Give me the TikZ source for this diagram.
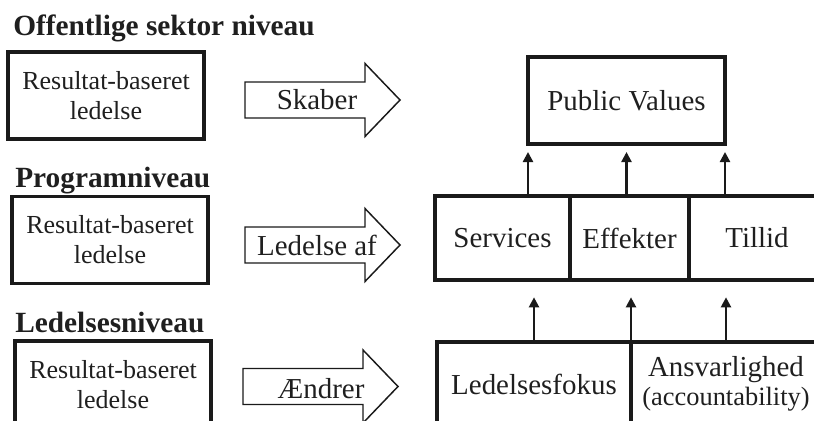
\documentclass[tikz,border=0pt]{standalone}
\usepackage{fontspec}
\setmainfont{Liberation Serif}
\usepackage{tikz}
\usetikzlibrary{calc}
\usetikzlibrary{arrows.meta}
\definecolor{ink}{HTML}{1A1A1A}
\definecolor{txt}{HTML}{1F1F1F}
\newcommand{\bigarrow}[2]{ \draw[ink, line width=1.1pt, fill=white, line join=miter] (#1 , #2 - 18) -- (#1 + 120 , #2 - 18) -- (#1 + 120 , #2 - 36.5) -- (#1 + 155 , #2) -- (#1 + 120 , #2 + 36.5) -- (#1 + 120 , #2 + 18) -- (#1 , #2 + 18) -- cycle;}
\tikzset{
  level/.style={anchor=base west, inner sep=0pt, text=txt, font=\fontsize{22}{26}\selectfont\bfseries},
  lbox/.style={draw=ink, line width=2.6pt, outer sep=0pt, inner sep=0pt, align=center, text=txt,
    minimum width=147pt, minimum height=65pt, font=\fontsize{19.5}{22.5}\selectfont},
  cell/.style={draw=ink, line width=2.5pt, outer sep=0pt, inner sep=0pt, align=center, text=txt,
    minimum height=63pt, font=\fontsize{21.7}{26}\selectfont},
  verb/.style={inner sep=0pt, text=txt, font=\fontsize{21.7}{26}\selectfont},
  conn/.style={ink, line width=1.7pt, -{Triangle[length=7.5pt, width=7.5pt]}}
}
\begin{document}
\begin{tikzpicture}[x=0.75pt, y=-0.75pt]
\useasboundingbox (0,0) rectangle (814,421);
\clip (0,0) rectangle (814,421);
% left column
\node[level] (t1) at (13,35) {Offentlige sektor niveau};
\node[lbox] (rb1) at (106,95.5) {Resultat-baseret\\ledelse};
\node[level] (t2) at (15,187) {Programniveau};
\node[lbox] (rb2) at (110,240) {Resultat-baseret\\ledelse};
\node[level] (t3) at (15,332) {Ledelsesniveau};
\node[lbox] (rb3) at (113,384.5) {Resultat-baseret\\ledelse};
% arrows
\bigarrow{245}{100}
\node[verb] (skab) at (317,100) {Skaber};
\bigarrow{245}{245}
\node[verb] (led) at (317,245) {Ledelse af};
\bigarrow{243}{386.5}
\node[verb] (aendr) at (321,389) {Ændrer};
% right column
\node[cell, minimum width=147.75pt, minimum height=65.25pt] (pv) at (626.5,100.5) {Public Values};
\node[cell, minimum width=101.25pt] (serv) at (502.5,238) {Services};
\node[cell, minimum width=89.25pt, anchor=west] (eff) at (serv.east) {Effekter};
\node[cell, minimum width=102pt, anchor=west] (till) at (eff.east) {Tillid};
\node[cell, minimum width=145.5pt] (fok) at (534,384) {Ledelsesfokus};
\node[cell, minimum width=142.5pt, anchor=west] (ansv) at (fok.east) {Ansvarlighed\\[-4pt]{\fontsize{19.8}{22}\selectfont(accountability)}};
% connectors
\draw[conn, shorten >=6pt] (pv.south west |- serv.north) -- (pv.south west);
\draw[conn, shorten >=6pt] (pv.south |- serv.north) -- (pv.south);
\draw[conn, shorten >=6pt] (pv.south east |- serv.north) -- (pv.south east);
\draw[conn, shorten >=13pt] (fok.north) -- (fok.north |- eff.south);
\draw[conn, shorten >=13pt] (fok.north east) -- (fok.north east |- eff.south);
\draw[conn, shorten >=13pt] (ansv.north) -- (ansv.north |- eff.south);
\end{tikzpicture}
\end{document}
